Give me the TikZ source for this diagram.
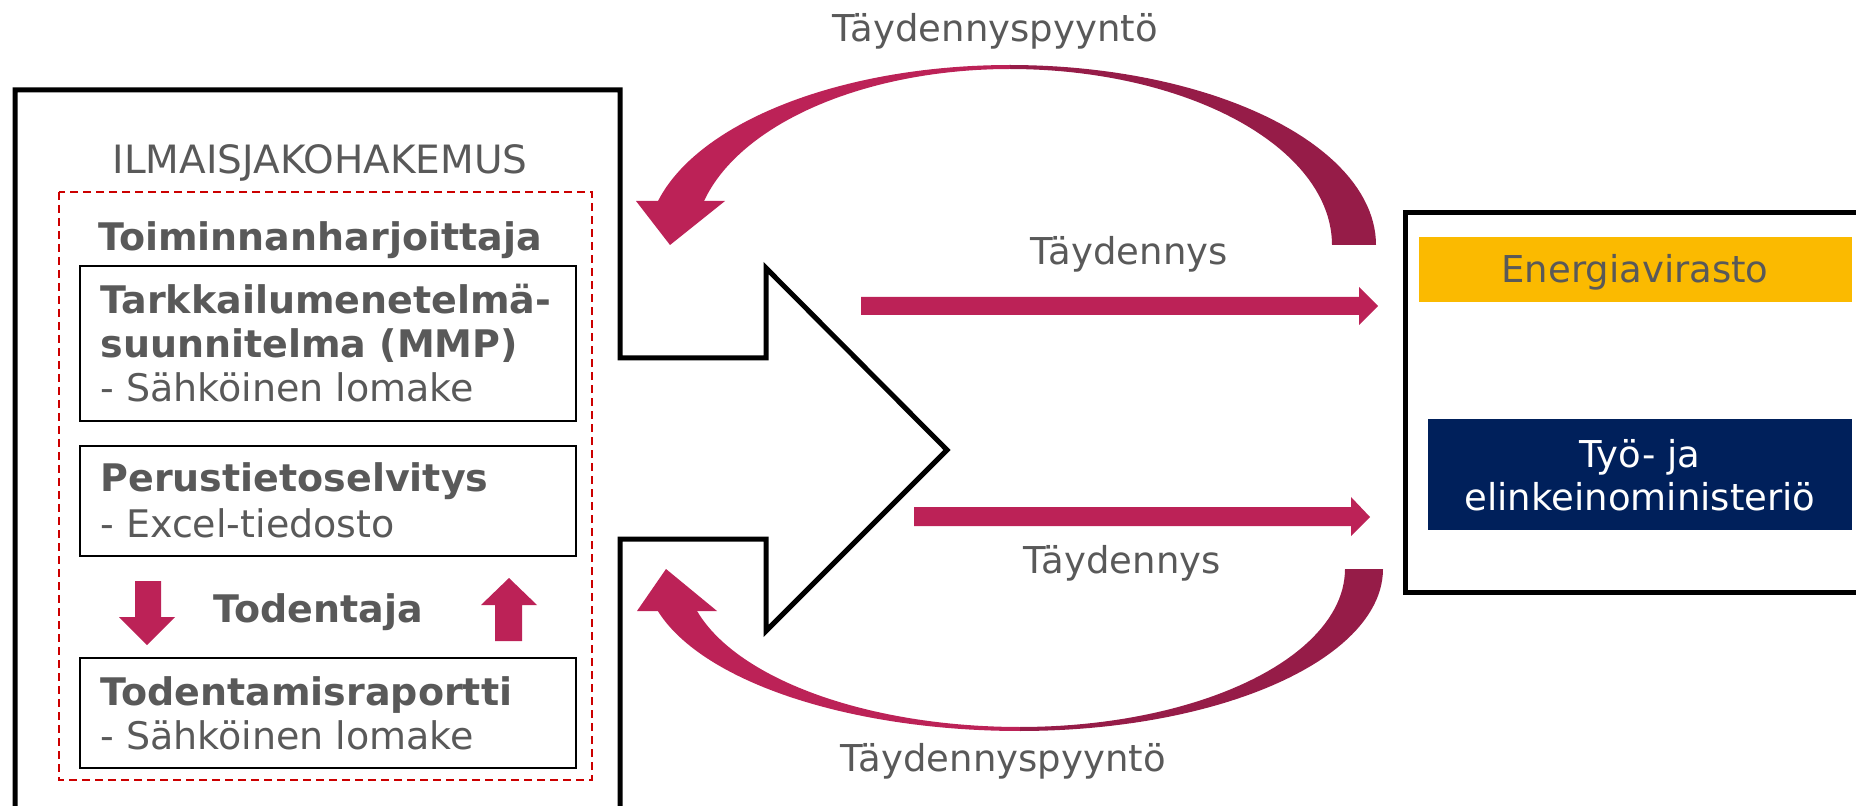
\documentclass[tikz,border=0pt]{standalone}
\usepackage{fontspec}
\setmainfont{DejaVu Sans}
\definecolor{tgray}{RGB}{89,89,89}
\definecolor{berry}{RGB}{188,34,87}
\definecolor{berrydark}{RGB}{150,28,72}
\definecolor{evyellow}{RGB}{251,186,0}
\definecolor{temblue}{RGB}{0,32,91}
\definecolor{dashred}{RGB}{204,0,0}
\newcommand{\bigtxt}{\fontsize{19pt}{22pt}\selectfont}
\newcommand{\midtxt}{\fontsize{18.5pt}{22pt}\selectfont}
\begin{document}
\begin{tikzpicture}[x=0.5pt,y=-0.5pt,
    lbl/.style={inner sep=0pt, text=tgray, font=\midtxt},
    txt/.style={inner sep=0pt, text=tgray, font=\bigtxt, anchor=base west},
    ttl/.style={inner sep=0pt, text=tgray, font=\bigtxt\bfseries, anchor=base west}]
    \useasboundingbox (0,0) rectangle (1856,806);

    % Draw the application frame with the big arrow
    \draw[line width=2.5pt] (15,812) -- (15,90) -- (620,90) -- (620,358) -- (766,358)
        -- (766,268) -- (947,450) -- (766,631) -- (766,539) -- (620,539) -- (620,812);
    \draw[line width=2.5pt] (1862,213) -- (1405,213) -- (1405,592) -- (1862,592);

    % Draw dashed area and document boxes
    \draw[dashred, line width=1pt, dash pattern=on 4pt off 2.5pt] (59,192) rectangle (592,780);
    \draw[line width=1pt] (80,266) rectangle (576,421);
    \draw[line width=1pt] (80,446) rectangle (576,556);
    \draw[line width=1pt] (80,658) rectangle (576,768);

    % Label the application
    \node[lbl, font=\fontsize{19.5pt}{22pt}\selectfont, anchor=base] (hakemus) at (320,174) {ILMAISJAKOHAKEMUS};
    \node[ttl, anchor=base] (toimija) at (320,251) {Toiminnanharjoittaja};
    \node[ttl] (mmp) at (100,314) {Tarkkailumenetelmä-};
    \node[ttl] (mmp2) at (100,358) {suunnitelma (MMP)};
    \node[txt] (mmp3) at (100,402) {- Sähköinen lomake};
    \node[ttl] (perus) at (100,492) {Perustietoselvitys};
    \node[txt] (perus2) at (100,538) {- Excel-tiedosto};
    \node[ttl, anchor=base] (todentaja) at (318,622) {Todentaja};
    \node[ttl] (raportti) at (100,705) {Todentamisraportti};
    \node[txt] (raportti2) at (100,749) {- Sähköinen lomake};

    % Small arrows to and from the verifier
    \fill[berry] (135,581) -- (161,581) -- (161,617) -- (175,617) -- (147,645) -- (119,617) -- (135,617) -- cycle;
    \fill[berry] (495,641) -- (522,641) -- (522,605) -- (537,605) -- (509,578) -- (481,605) -- (495,605) -- cycle;

    % Authorities
    \fill[evyellow] (1419,237) rectangle (1852,302);
    \node[lbl, anchor=base] (ev) at (1635,283) {Energiavirasto};
    \fill[temblue] (1428,419) rectangle (1852,530);
    \node[lbl, text=white, anchor=base] (tem) at (1640,467) {Työ- ja};
    \node[lbl, text=white, anchor=base] (tem2) at (1640,510) {elinkeinoministeriö};

    % Straight arrows
    \fill[berry] (861,297) -- (1359,297) -- (1359,287) -- (1378,306) -- (1359,325) -- (1359,315) -- (861,315) -- cycle;
    \fill[berry] (914,507) -- (1351,507) -- (1351,497) -- (1370,517) -- (1351,536) -- (1351,526) -- (914,526) -- cycle;
    \node[lbl, anchor=base] (tayd1) at (1129,265) {Täydennys};
    \node[lbl, anchor=base] (tayd2) at (1122,573) {Täydennys};

    % Curved arrows back to the applicant
    \fill[berry] plot[domain=194.15:270,samples=50] ({1010+363*cos(\x)},{245+180*sin(\x)})
        -- plot[domain=270:194.48,samples=50] ({1010+316*cos(\x)},{245+176*sin(\x)}) -- cycle;
    \fill[berrydark] plot[domain=270:360,samples=50] ({1010+366*cos(\x)},{245+180*sin(\x)})
        -- plot[domain=360:270,samples=50] ({1010+322*cos(\x)},{245+176*sin(\x)}) -- cycle;
    \fill[berry] (636,201) -- (725,201) -- (670,245) -- cycle;
    \fill[berry] plot[domain=164.97:90,samples=50] ({1020+375*cos(\x)},{569+162*sin(\x)})
        -- plot[domain=90:164.59,samples=50] ({1020+335*cos(\x)},{569+158*sin(\x)}) -- cycle;
    \fill[berrydark] plot[domain=90:0,samples=50] ({1020+363*cos(\x)},{569+162*sin(\x)})
        -- plot[domain=0:90,samples=50] ({1020+325*cos(\x)},{569+158*sin(\x)}) -- cycle;
    \fill[berry] (637,611) -- (717,611) -- (666,569) -- cycle;
    \node[lbl, anchor=base] (pyynto1) at (995,42) {Täydennyspyyntö};
    \node[lbl, anchor=base] (pyynto2) at (1003,771) {Täydennyspyyntö};
\end{tikzpicture}
\end{document}
